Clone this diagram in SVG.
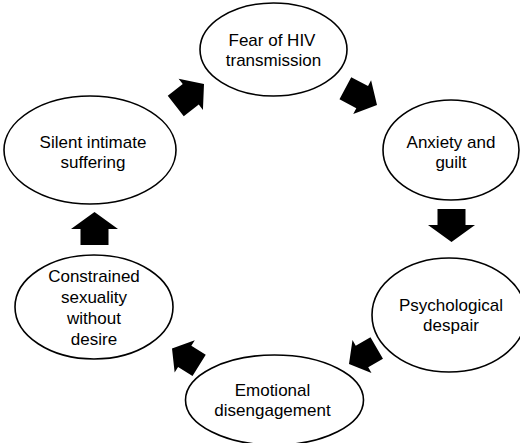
<svg xmlns="http://www.w3.org/2000/svg" xmlns:xlink="http://www.w3.org/1999/xlink" width="520" height="443" viewBox="0 0 520 443">
<style>
.node ellipse{fill:#fff;stroke:#000;stroke-width:1.6}
.node text{font-family:"Liberation Sans",Arial,sans-serif;font-size:17px;fill:#000;text-anchor:middle}
.arrow{fill:#000;stroke:none}
</style>
<defs>
<path id="arrD" d="M0,0 L-15,-19 L-15,-12.5 L-32,-12.5 L-32,12.5 L-15,12.5 L-15,19 Z"/>
<path id="arrV" d="M0,0 L-17,-23.5 L-17,-14 L-33,-14 L-33,14 L-17,14 L-17,23.5 Z"/>
</defs>
<rect width="520" height="443" fill="#fff"/>
<g id="connectors">
<use class="arrow" xlink:href="#arrD" transform="translate(204,84) rotate(-38) scale(1.12,1.04)"/>
<use class="arrow" xlink:href="#arrD" transform="translate(377,105) rotate(28) scale(1.12,1)"/>
<use class="arrow" xlink:href="#arrV" transform="translate(451.5,242) rotate(90)"/>
<use class="arrow" xlink:href="#arrD" transform="translate(349,364) rotate(150)"/>
<use class="arrow" xlink:href="#arrD" transform="translate(172,348.5) rotate(212)"/>
<use class="arrow" xlink:href="#arrV" transform="translate(94.5,212) rotate(-90)"/>
</g>
<g id="fear" class="node">
<ellipse cx="273.5" cy="49.5" rx="73.5" ry="46.5"/>
<text x="272" y="46">Fear of HIV</text>
<text x="273.5" y="66">transmission</text>
</g>
<g id="anxiety" class="node">
<ellipse cx="451" cy="150" rx="68" ry="50"/>
<text x="451" y="148">Anxiety and</text>
<text x="451" y="168">guilt</text>
</g>
<g id="despair" class="node">
<ellipse cx="449" cy="315" rx="77" ry="57"/>
<text x="451" y="311">Psychological</text>
<text x="451" y="331">despair</text>
</g>
<g id="disengagement" class="node">
<ellipse cx="274.5" cy="400" rx="89" ry="45"/>
<text x="272.5" y="396">Emotional</text>
<text x="272.5" y="416">disengagement</text>
</g>
<g id="constrained" class="node">
<ellipse cx="94" cy="307" rx="79" ry="52"/>
<text x="94" y="282">Constrained</text>
<text x="94" y="303">sexuality</text>
<text x="94" y="324">without</text>
<text x="94" y="345">desire</text>
</g>
<g id="silent" class="node">
<ellipse cx="90" cy="150" rx="86" ry="54"/>
<text x="93" y="148">Silent intimate</text>
<text x="93" y="168">suffering</text>
</g>
</svg>
